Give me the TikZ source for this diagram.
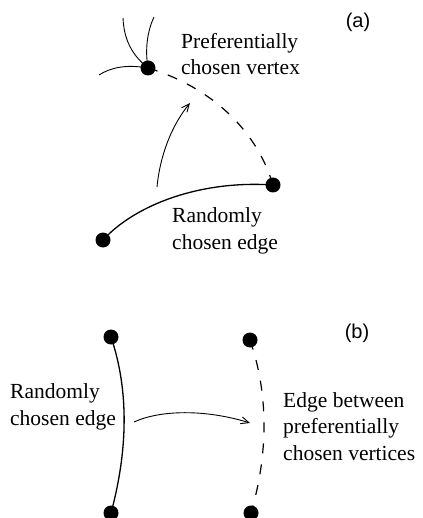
\documentclass[tikz,border=0pt]{standalone}
\usepackage{fontspec}
\setmainfont{Liberation Serif}
\newfontfamily\labelsans{Liberation Sans}
\usetikzlibrary{arrows.meta}
\begin{document}
\begin{tikzpicture}[x=1pt,y=-1pt,
  vtx/.style={circle,fill=black,inner sep=0pt,minimum size=15pt},
  edgeline/.style={line width=1.3pt},
  thinedge/.style={line width=0.9pt},
  dashedge/.style={line width=1.2pt,dash pattern=on 10pt off 11pt},
  thinarrow/.style={line width=0.9pt,-{Straight Barb[length=8pt,width=7pt]}},
  lbl/.style={font=\fontsize{21.5}{26.5}\selectfont,align=left,inner sep=0pt,anchor=base west},
  tag/.style={font=\labelsans\fontsize{20}{24}\selectfont,inner sep=0pt}]
\useasboundingbox (0,0) rectangle (422,518);

% ---------- (a) ----------
\node[vtx] (P) at (148,68) {};
\node[vtx] (R0) at (103,240) {};
\node[vtx] (R1) at (273,185) {};
\coordinate (e1) at (123,18);
\coordinate (e2) at (154,17);
\coordinate (e3) at (99,75);
\coordinate (a1) at (157,187);
\coordinate (a2) at (190,103);

\draw[thinedge] (e1) .. controls (124,40) and (132,55) .. (P.center);
\draw[thinedge] (e2) .. controls (147,32) and (145,50) .. (P.center);
\draw[thinedge] (e3) .. controls (110,68) and (125,64) .. (P.center);
\draw[dashedge] (P.center) .. controls (205,85) and (255,125) .. (R1.center);
\draw[edgeline] (R0.center) .. controls (135,205) and (200,180) .. (R1.center);
\draw[thinarrow] (a1) .. controls (160,155) and (172,125) .. (a2);

\node[lbl] (tpref) at (181,75) {Preferentially\\chosen vertex};
\node[lbl] (trand) at (172,249) {Randomly\\chosen edge};
\node[tag] (taga) at (358,22) {(a)};

% ---------- (b) ----------
\node[vtx] (L1) at (111,337) {};
\node[vtx] (L2) at (111,513) {};
\node[vtx] (D1) at (250,340) {};
\node[vtx] (D2) at (251,513) {};
\coordinate (b1) at (134,422);
\coordinate (b2) at (250,423);

\draw[edgeline] (L1.center) .. controls (129,390) and (128,450) .. (L2.center);
\draw[dashedge] (D1.center) .. controls (269,395) and (268,455) .. (D2.center);
\draw[thinarrow] (b1) .. controls (160,410) and (205,409) .. (b2);

\node[lbl] (trandb) at (10,425) {Randomly\\chosen edge};
\node[lbl] (tedge) at (283,460) {Edge between\\preferentially\\chosen vertices};
\node[tag] (tagb) at (357,333) {(b)};
\end{tikzpicture}
\end{document}
